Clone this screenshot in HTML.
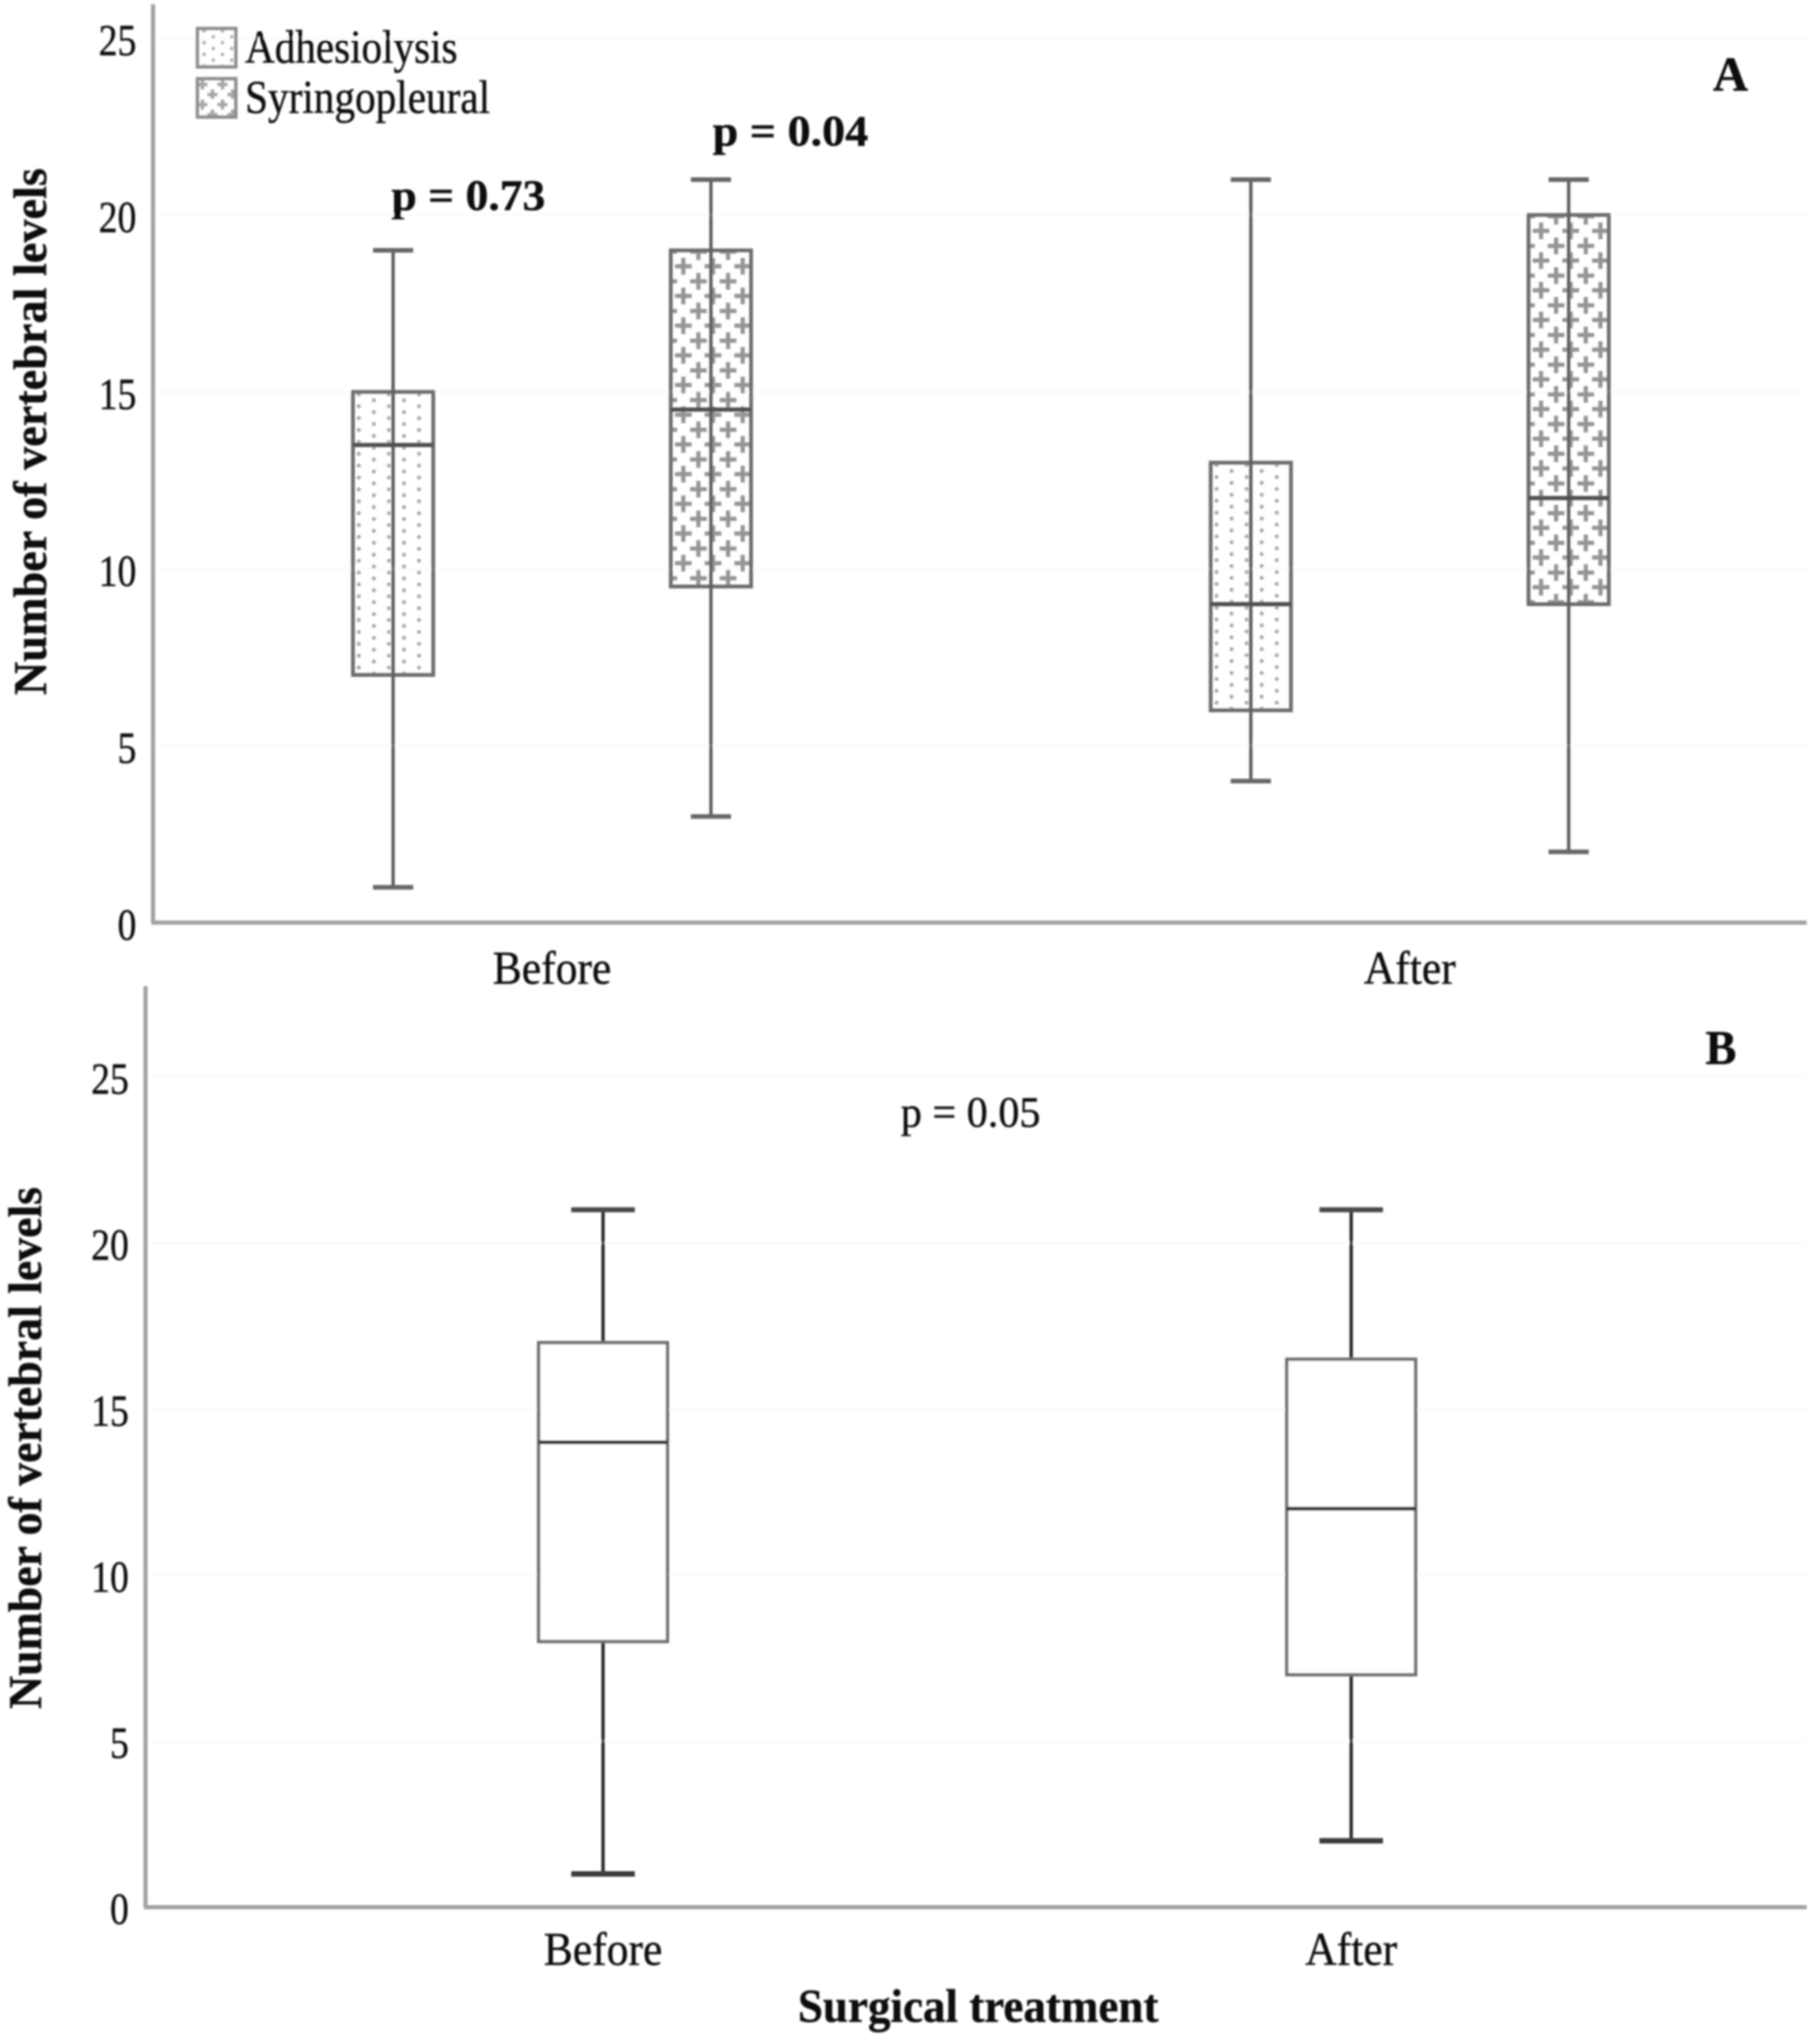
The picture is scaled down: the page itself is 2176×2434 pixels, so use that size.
<!DOCTYPE html>
<html lang="en">
<head>
<meta charset="utf-8">
<title>Number of vertebral levels before and after surgical treatment</title>
<style>
html,body{margin:0;padding:0;background:#fff;}
svg{display:block;}
text{font-family:"Liberation Serif",serif;fill:#111;stroke:#111;stroke-width:0.5;}
</style>
</head>
<body>
<svg id="chart" xmlns="http://www.w3.org/2000/svg" width="2176" height="2434" viewBox="0 0 2176 2434">
  <defs>
    <filter id="soft" x="0" y="0" width="100%" height="100%" filterUnits="userSpaceOnUse" primitiveUnits="userSpaceOnUse">
      <feGaussianBlur stdDeviation="1"/>
    </filter>
    <pattern id="legend-dots" patternUnits="userSpaceOnUse" width="22" height="14" x="236" y="34">
      <circle cx="8" cy="3" r="2.2" fill="#b0b0b0"/>
      <circle cx="19" cy="10" r="2.2" fill="#b0b0b0"/>
    </pattern>
    <pattern id="legend-plus" patternUnits="userSpaceOnUse" width="24" height="24" x="236" y="94">
      <path d="M6 1v12M0 7h12M18 13v12M12 19h12" stroke="#a6a6a6" stroke-width="4" fill="none"/>
    </pattern>
  </defs>
  <rect x="0" y="0" width="2176" height="2434" fill="#fff"/>
  <g id="root" filter="url(#soft)">
    <g id="panel-a"></g>
    <g id="panel-b"></g>

    <g>
      <g>
        <rect x="236" y="34" width="46" height="46" fill="url(#legend-dots)" stroke="#8e8e8e" stroke-width="4"/>
        <text x="293" y="75" font-size="56" textLength="254" lengthAdjust="spacingAndGlyphs">Adhesiolysis</text>
      </g>
      <g>
        <rect x="236" y="94" width="46" height="46" fill="url(#legend-plus)" stroke="#8e8e8e" stroke-width="4"/>
        <text x="293" y="135" font-size="56" textLength="293" lengthAdjust="spacingAndGlyphs">Syringopleural</text>
      </g>
    </g>

    <text x="468" y="251" font-size="52" font-weight="bold" textLength="184" lengthAdjust="spacingAndGlyphs">p = 0.73</text>
    <text x="852" y="174" font-size="52" font-weight="bold" textLength="186" lengthAdjust="spacingAndGlyphs">p = 0.04</text>
    <text x="2048" y="108" font-size="58" font-weight="bold" textLength="42" lengthAdjust="spacingAndGlyphs">A</text>
    <text x="2039" y="1272" font-size="58" font-weight="bold" textLength="37" lengthAdjust="spacingAndGlyphs">B</text>
    <text x="1077" y="1347" font-size="52" textLength="167" lengthAdjust="spacingAndGlyphs">p = 0.05</text>
    <text transform="translate(55,831) rotate(-90)" font-size="56" font-weight="bold" textLength="630" lengthAdjust="spacingAndGlyphs">Number of vertebral levels</text>
    <text transform="translate(49,2043) rotate(-90)" font-size="56" font-weight="bold" textLength="624" lengthAdjust="spacingAndGlyphs">Number of vertebral levels</text>
    <text x="954" y="2417" font-size="56" font-weight="bold" textLength="431" lengthAdjust="spacingAndGlyphs">Surgical treatment</text>
  </g>
</svg>
<script>
// ---- chart values ----
const yTicksA = [0, 5, 10, 15, 20, 25];
const yTicksB = [0, 5, 10, 15, 20, 25];
const categoriesA = ['Before', 'After'];
const categoriesB = ['Before', 'After'];

// Panel A, one entry per time point
const adhesiolysisLow    = [1, 4];
const adhesiolysisQ1     = [7, 6];
const adhesiolysisMedian = [13.5, 9];
const adhesiolysisQ3     = [15, 13];
const adhesiolysisHigh   = [19, 21];

const syringopleuralLow    = [3, 2];
const syringopleuralQ1     = [9.5, 9];
const syringopleuralMedian = [14.5, 12];
const syringopleuralQ3     = [19, 20];
const syringopleuralHigh   = [21, 21];

// Panel B
const overallLow    = [1, 2];
const overallQ1     = [8, 7];
const overallMedian = [14, 12];
const overallQ3     = [17, 16.5];
const overallHigh   = [21, 21];

// ---- axis functions ----
function yA(v) { return 1103 - 42.3 * v; }
function yB(v) { return 2280 - 39.7 * v; }
function catA(i) { return 660 + 1025.5 * i; }
function catB(i) { return 721 + 894.5 * i; }
function seriesA(i, s) { return catA(i) + (s === 0 ? -190 : 190); }

const NS = 'http://www.w3.org/2000/svg';
function make(parent, tag, attrs) {
  const el = document.createElementNS(NS, tag);
  for (const k in attrs) el.setAttribute(k, attrs[k]);
  parent.appendChild(el);
  return el;
}
function line(parent, x1, y1, x2, y2, color, width) {
  return make(parent, 'line', { x1: x1, y1: y1, x2: x2, y2: y2, stroke: color, 'stroke-width': width });
}
const defs = document.querySelector('#chart defs');

function hatch(id, kind, left, top) {
  const p = make(defs, 'pattern', { id: id, patternUnits: 'userSpaceOnUse', x: left, y: top,
    width: kind === 'dots' ? 36 : 35.5, height: kind === 'dots' ? 14.2 : 35.5 });
  if (kind === 'dots') {
    make(p, 'circle', { cx: 7, cy: 3, r: 2.4, fill: '#a8a8a8' });
    make(p, 'circle', { cx: 25, cy: 10, r: 2.4, fill: '#a8a8a8' });
  } else {
    const d = 'M15 9v20M5 19h20M33 -8.5v20M23 1.5h20M33 27v20M23 37h20M-2.5 -8.5v20M-12.5 1.5h20M-2.5 27v20M-12.5 37h20';
    make(p, 'path', { d: d, stroke: '#959595', 'stroke-width': 5, fill: 'none' });
  }
}

// ---- panel A ----
const gA = document.getElementById('panel-a');
yTicksA.forEach(function (t) {
  if (t > 0) {
    const grid = line(gA, 186, yA(t), 2160, yA(t), '#f8fcfa', 3);
    
    
  }
  const lab = make(gA, 'text', { transform: 'translate(163,' + (yA(t) + 20.5) + ') scale(0.85,1)', 'font-size': 53, 'text-anchor': 'end' });
  lab.textContent = t;
  
  
});
const axisYA = line(gA, 183, 5, 183, 1103, '#a2a2a2', 5);


const axisXA = line(gA, 181, 1103, 2160, 1103, '#a2a2a2', 5);



categoriesA.forEach(function (c, i) {
  const lab = make(gA, 'text', { transform: 'translate(' + catA(i) + ',1176) scale(0.93,1)', 'font-size': 56, 'text-anchor': 'middle' });
  lab.textContent = c;
  
  

  [
    { name: 'adhesiolysis', kind: 'dots', low: adhesiolysisLow, q1: adhesiolysisQ1, med: adhesiolysisMedian, q3: adhesiolysisQ3, high: adhesiolysisHigh },
    { name: 'syringopleural', kind: 'plus', low: syringopleuralLow, q1: syringopleuralQ1, med: syringopleuralMedian, q3: syringopleuralQ3, high: syringopleuralHigh }
  ].forEach(function (s, si) {
    const cx = seriesA(i, si);
    const halfBox = 48, halfCap = 24;
    const g = make(gA, 'g', {});
    
    
    const pid = 'hatch-' + s.name + '-' + i;
    hatch(pid, s.kind, cx - halfBox, yA(s.q3[i]));
    const box = make(g, 'rect', { x: cx - halfBox, y: yA(s.q3[i]), width: halfBox * 2, height: yA(s.q1[i]) - yA(s.q3[i]), fill: 'url(#' + pid + ')', stroke: '#6c6c6c', 'stroke-width': 4.5 });
    
    
    const wh = line(g, cx, yA(s.high[i]), cx, yA(s.low[i]), '#5e5e5e', 4);
    
    
    const capHi = line(g, cx - halfCap, yA(s.high[i]), cx + halfCap, yA(s.high[i]), '#666', 5.5);
    
    
    const capLo = line(g, cx - halfCap, yA(s.low[i]), cx + halfCap, yA(s.low[i]), '#666', 5.5);
    
    
    const med = line(g, cx - halfBox, yA(s.med[i]), cx + halfBox, yA(s.med[i]), '#505050', 5);
    
    
  });
});

// ---- panel B ----
const gB = document.getElementById('panel-b');
yTicksB.forEach(function (t) {
  if (t > 0) {
    const grid = line(gB, 177, yB(t), 2160, yB(t), '#f9fafa', 3);
    
    
  }
  const lab = make(gB, 'text', { transform: 'translate(154,' + (yB(t) + 20) + ') scale(0.85,1)', 'font-size': 53, 'text-anchor': 'end' });
  lab.textContent = t;
  
  
});
const axisYB = line(gB, 174, 1179, 174, 2280, '#a2a2a2', 5);


const axisXB = line(gB, 172, 2280, 2160, 2280, '#a2a2a2', 5);



categoriesB.forEach(function (c, i) {
  const cx = catB(i);
  const halfBox = 77, halfCap = 38;
  const lab = make(gB, 'text', { transform: 'translate(' + cx + ',2349) scale(0.93,1)', 'font-size': 56, 'text-anchor': 'middle' });
  lab.textContent = c;
  
  

  const g = make(gB, 'g', {});
  
  
  const wh = line(g, cx, yB(overallHigh[i]), cx, yB(overallLow[i]), '#2a2a2a', 4);
  
  
  const capHi = line(g, cx - halfCap, yB(overallHigh[i]), cx + halfCap, yB(overallHigh[i]), '#4a4a4a', 6);
  
  
  const capLo = line(g, cx - halfCap, yB(overallLow[i]), cx + halfCap, yB(overallLow[i]), '#3a3a3a', 6.5);
  
  
  const box = make(g, 'rect', { x: cx - halfBox, y: yB(overallQ3[i]), width: halfBox * 2, height: yB(overallQ1[i]) - yB(overallQ3[i]), fill: '#fff', stroke: '#6e6e6e', 'stroke-width': 4 });
  
  
  const med = line(g, cx - halfBox, yB(overallMedian[i]), cx + halfBox, yB(overallMedian[i]), '#2a2a2a', 4.5);
  
  
});
</script>
</body>
</html>
